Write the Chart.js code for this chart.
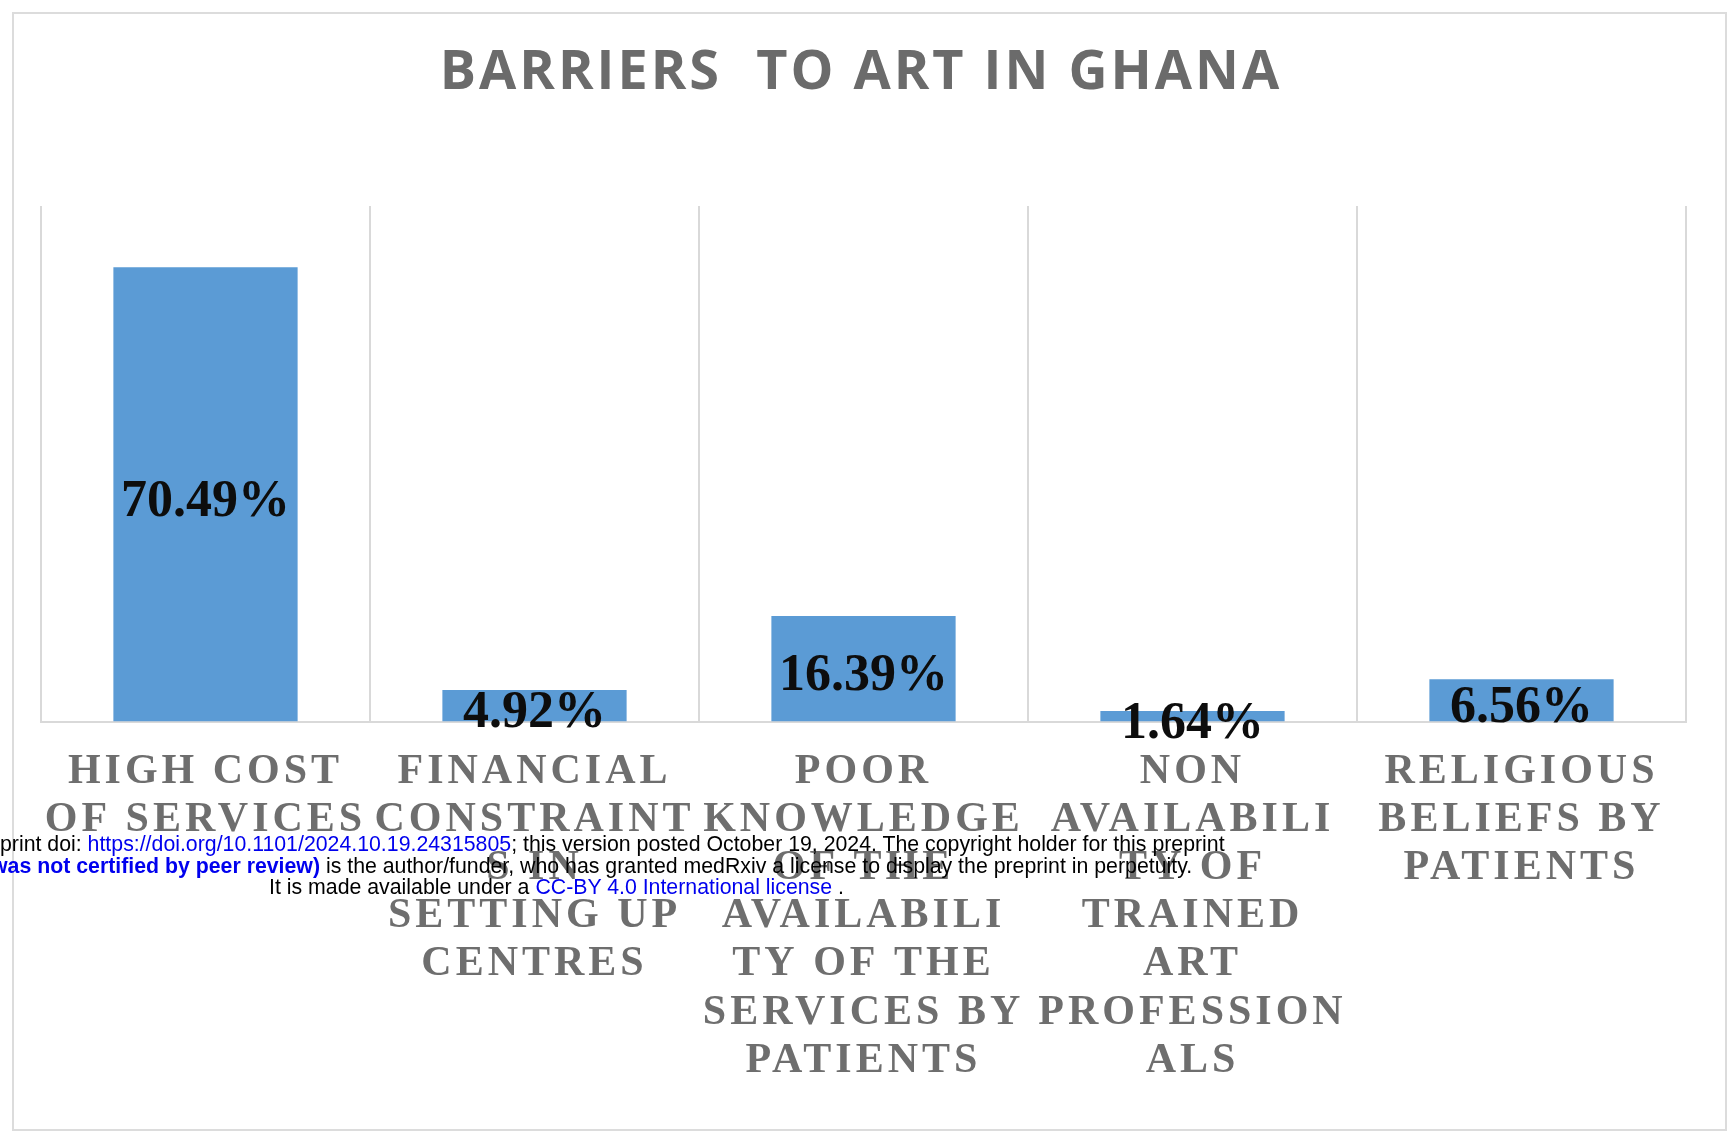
<!DOCTYPE html>
<html>
<head>
<meta charset="utf-8">
<title>Barriers to ART in Ghana</title>
<script src="https://cdn.jsdelivr.net/npm/chart.js@4.4.1/dist/chart.umd.min.js"></script>
<style>
  html, body { margin: 0; padding: 0; background: #fff; overflow: hidden; }
  #wrap { position: relative; width: 1727px; height: 1131px; }
  #frame {
    position: absolute; left: 12px; top: 12px; width: 1711px; height: 1115px;
    border: 2px solid #dcdcdc;
  }
  #barChart { position: absolute; left: 0; top: 0; }
  .stamp {
    position: absolute; white-space: nowrap;
    font: 21.3px "Liberation Sans", Arial, sans-serif; line-height: 21.5px; color: #000;
  }
  .stamp .blue { color: #0000ee; }
</style>
</head>
<body>
<div id="wrap">
  <div id="frame"></div>
  <canvas id="barChart" width="1727" height="1131"></canvas>
  <div class="stamp" style="left:0; top:834px">print doi: <span class="blue">https://doi.org/10.1101/2024.10.19.24315805</span>; this version posted October 19, 2024. The copyright holder for this preprint</div>
  <div class="stamp" style="left:-9px; top:856px"><b class="blue">was not certified by peer review)</b> is the author/funder, who has granted medRxiv a license to display the preprint in perpetuity.</div>
  <div class="stamp" style="left:269px; top:877px">It is made available under a <span class="blue">CC-BY 4.0 International license</span> .</div>
</div>
<script>
const ctx = document.getElementById("barChart");

// categories, already broken into lines the way the axis shows them
const categories = [
  ["HIGH COST", "OF SERVICES"],
  ["FINANCIAL", "CONSTRAINT", "S IN", "SETTING UP", "CENTRES"],
  ["POOR", "KNOWLEDGE", "OF THE", "AVAILABILI", "TY OF THE", "SERVICES BY", "PATIENTS"],
  ["NON", "AVAILABILI", "TY OF", "TRAINED", "ART", "PROFESSION", "ALS"],
  ["RELIGIOUS", "BELIEFS BY", "PATIENTS"],
];
const shares = [70.49, 4.92, 16.39, 1.64, 6.56]; // percent of respondents
const chartTitle = "BARRIERS  TO ART IN GHANA";

const barColor = "#5b9bd5";
const gridColor = "#d9d9d9";

// tick labels are spaced out a bit, set before the axes get drawn
const spacingPlugin = {
  id: "spacing",
  beforeDraw(chart) {
    chart.ctx.letterSpacing = "4px";
  },
};

// value written in the middle of each bar
const valueLabels = {
  id: "valueLabels",
  afterDatasetsDraw(chart) {
    const c = chart.ctx;
    const meta = chart.getDatasetMeta(0);
    c.save();
    c.letterSpacing = "0px";
    c.font = 'bold 52px "Liberation Serif", "Times New Roman", serif';
    c.fillStyle = "#0d0d0d";
    c.textAlign = "center";
    c.textBaseline = "middle";
    meta.data.forEach((bar, i) => {
      const y = (bar.y + bar.base) / 2 + 8;
      c.fillText(shares[i].toFixed(2) + "%", bar.x, y);
    });
    c.restore();
  },
};

// chart heading
const heading = {
  id: "heading",
  afterDraw(chart) {
    const c = chart.ctx;
    c.save();
    c.letterSpacing = "3px";
    c.font = 'bold 54px "Open Sans", sans-serif';
    c.fillStyle = "#6b6b6b";
    c.textAlign = "center";
    c.textBaseline = "alphabetic";
    c.fillText(chartTitle, 861, 89);
    c.restore();
  },
};

const chart = new Chart(ctx, {
  type: "bar",
  data: {
    labels: categories,
    datasets: [{
      data: shares,
      backgroundColor: barColor,
      borderWidth: 0,
      barPercentage: 0.56,
      categoryPercentage: 1,
    }],
  },
  options: {
    responsive: false,
    animation: false,
    devicePixelRatio: 1,
    layout: { padding: { top: 206, left: 41, right: 41, bottom: 20 } },
    plugins: {
      legend: { display: false },
      title: { display: false },
      tooltip: { enabled: false },
    },
    scales: {
      x: {
        grid: { color: gridColor, lineWidth: 2, drawTicks: false, offset: true },
        border: { display: true, color: gridColor, width: 2 },
        ticks: {
          color: "#6e6e6e",
          padding: 26,
          maxRotation: 0,
          autoSkip: false,
          font: { family: '"Liberation Serif", "Times New Roman", serif', size: 42, weight: "bold", lineHeight: 48.2 / 42 },
        },
      },
      y: {
        display: false,
        min: 0,
        max: 80,
      },
    },
  },
  plugins: [spacingPlugin, valueLabels, heading],
});
</script>
</body>
</html>
